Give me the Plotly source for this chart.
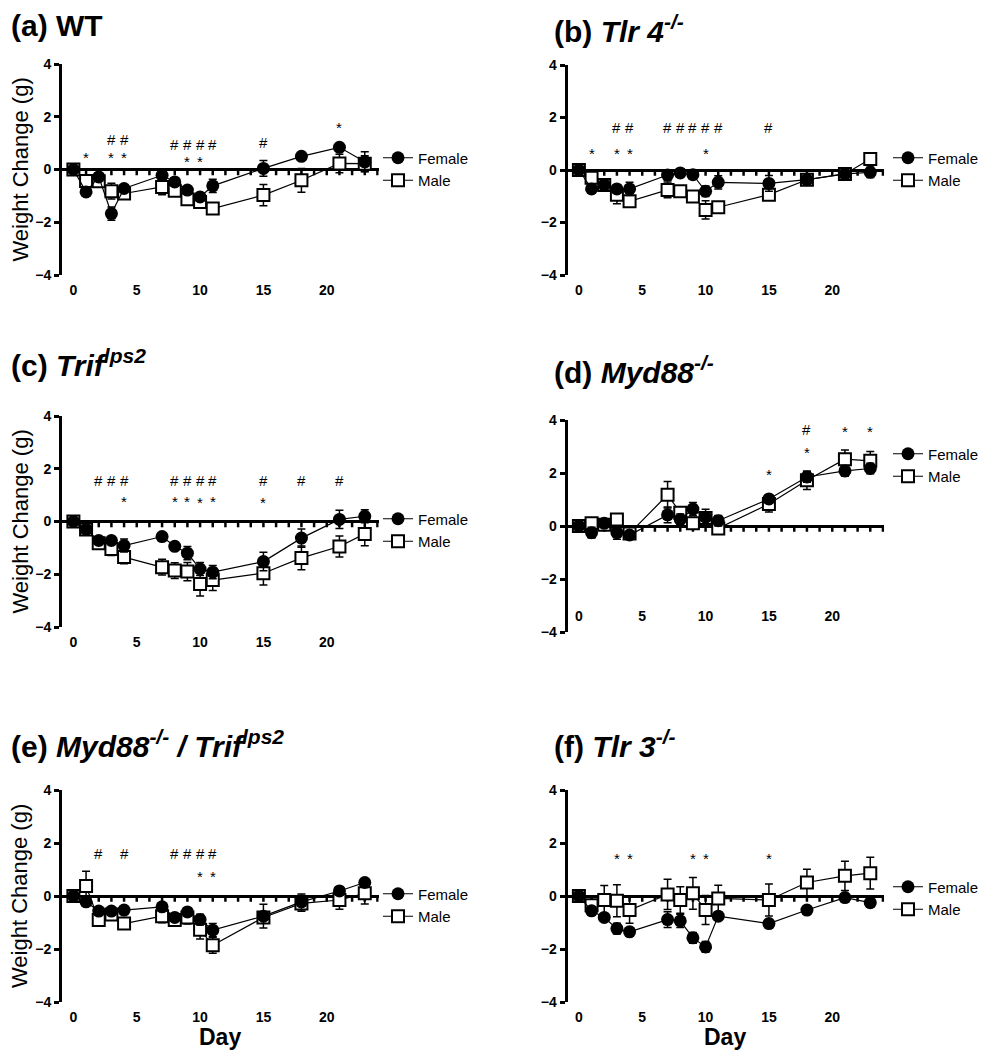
import plotly.graph_objects as go

# ---------------- data ----------------
days = [0, 1, 2, 3, 4, 7, 8, 9, 10, 11, 15, 18, 21, 23]

a_female = [0, -0.85, -0.28, -1.67, -0.72, -0.22, -0.47, -0.78, -1.04, -0.62, 0.04, 0.50, 0.84, 0.29]
a_female_err = [0.05, 0.1, 0.1, 0.25, 0.1, 0.1, 0.1, 0.1, 0.15, 0.25, 0.3, 0.1, 0.1, 0.38]
a_male = [0, -0.44, -0.45, -0.82, -0.91, -0.66, -0.81, -1.13, -1.23, -1.48, -0.97, -0.41, 0.23, 0.22]
a_male_err = [0.05, 0.15, 0.1, 0.3, 0.15, 0.3, 0.15, 0.2, 0.15, 0.1, 0.4, 0.45, 0.35, 0.3]

b_female = [0, -0.72, -0.57, -0.72, -0.72, -0.19, -0.11, -0.18, -0.81, -0.47, -0.51, -0.37, -0.15, -0.09]
b_female_err = [0.05, 0.1, 0.1, 0.15, 0.25, 0.2, 0.1, 0.1, 0.2, 0.25, 0.3, 0.1, 0.1, 0.2]
b_male = [0, -0.30, -0.57, -0.94, -1.19, -0.76, -0.81, -1.01, -1.52, -1.42, -0.94, -0.37, -0.15, 0.42]
b_male_err = [0.05, 0.1, 0.1, 0.35, 0.1, 0.3, 0.1, 0.1, 0.35, 0.1, 0.1, 0.1, 0.1, 0.15]

c_female = [0, -0.30, -0.72, -0.72, -0.91, -0.57, -0.94, -1.20, -1.80, -1.92, -1.52, -0.63, 0.08, 0.20]
c_female_err = [0.05, 0.1, 0.15, 0.15, 0.25, 0.1, 0.1, 0.25, 0.25, 0.25, 0.35, 0.35, 0.35, 0.25]
c_male = [0, -0.30, -0.82, -1.04, -1.35, -1.73, -1.86, -1.90, -2.37, -2.22, -1.96, -1.38, -0.95, -0.47]
c_male_err = [0.05, 0.1, 0.15, 0.25, 0.25, 0.3, 0.3, 0.35, 0.45, 0.4, 0.45, 0.45, 0.4, 0.45]

d_female = [0, -0.25, 0.10, -0.25, -0.34, 0.42, 0.25, 0.64, 0.33, 0.20, 1.02, 1.85, 2.08, 2.17]
d_female_err = [0.05, 0.2, 0.1, 0.25, 0.1, 0.3, 0.2, 0.25, 0.3, 0.2, 0.15, 0.2, 0.2, 0.2]
d_male = [0, 0.10, 0.05, 0.25, -0.28, 1.18, 0.50, 0.10, 0.30, -0.09, 0.83, 1.73, 2.52, 2.46]
d_male_err = [0.05, 0.1, 0.1, 0.2, 0.1, 0.5, 0.2, 0.2, 0.2, 0.2, 0.3, 0.35, 0.35, 0.35]

e_female = [0, -0.22, -0.57, -0.57, -0.53, -0.41, -0.81, -0.60, -0.89, -1.29, -0.76, -0.22, 0.19, 0.51]
e_female_err = [0.05, 0.1, 0.1, 0.1, 0.1, 0.1, 0.1, 0.1, 0.2, 0.25, 0.45, 0.3, 0.1, 0.1]
e_male = [0, 0.38, -0.91, -0.70, -1.04, -0.76, -0.91, -0.81, -1.27, -1.86, -0.81, -0.28, -0.15, 0.10]
e_male_err = [0.05, 0.55, 0.1, 0.15, 0.2, 0.25, 0.15, 0.25, 0.35, 0.3, 0.2, 0.3, 0.35, 0.4]

f_female = [0, -0.56, -0.81, -1.23, -1.35, -0.89, -0.94, -1.58, -1.92, -0.76, -1.04, -0.53, -0.06, -0.25]
f_female_err = [0.05, 0.1, 0.1, 0.2, 0.1, 0.3, 0.25, 0.2, 0.2, 0.1, 0.1, 0.1, 0.1, 0.1]
f_male = [0, -0.35, -0.15, -0.18, -0.53, 0.06, -0.15, 0.10, -0.53, -0.09, -0.15, 0.51, 0.76, 0.86]
f_male_err = [0.05, 0.3, 0.55, 0.6, 0.5, 0.57, 0.5, 0.6, 0.55, 0.5, 0.6, 0.5, 0.55, 0.6]

# significance marks (day, y value)
a_star_days = [1, 3, 4, 9, 10, 21]
a_star_y = [0.61, 0.61, 0.61, 0.46, 0.46, 1.74]
a_hash_days = [3, 4, 8, 9, 10, 11, 15]
a_hash_y = [1.14, 1.14, 0.96, 0.96, 0.96, 0.96, 1.01]

b_star_days = [1, 3, 4, 10]
b_star_y = [0.78, 0.78, 0.78, 0.78]
b_hash_days = [3, 4, 7, 8, 9, 10, 11, 15]
b_hash_y = [1.63, 1.63, 1.63, 1.63, 1.63, 1.63, 1.63, 1.63]

c_star_days = [4, 8, 9, 10, 11, 15]
c_star_y = [0.92, 0.90, 0.90, 0.88, 0.90, 0.86]
c_hash_days = [2, 3, 4, 8, 9, 10, 11, 15, 18, 21]
c_hash_y = [1.56, 1.56, 1.56, 1.56, 1.56, 1.56, 1.56, 1.56, 1.56, 1.56]

d_star_days = [15, 18, 21, 23]
d_star_y = [2.08, 2.93, 3.70, 3.70]
d_hash_days = [18, 21, 23]
d_hash_y = [3.66, 4.39, 4.39]

e_star_days = [10, 11]
e_star_y = [0.90, 0.90]
e_hash_days = [2, 4, 8, 9, 10, 11]
e_hash_y = [1.60, 1.60, 1.60, 1.60, 1.60, 1.60]

f_star_days = [3, 4, 9, 10, 15]
f_star_y = [1.56, 1.56, 1.56, 1.56, 1.56]
f_hash_days = []
f_hash_y = []

x_tick_vals = [0, 5, 10, 15, 20]
y_tick_vals = [-4, -2, 0, 2, 4]
minor_tick_days = list(range(1, 25))
series_names = ["Female", "Male"]

titles = [
    "(a) WT",
    "(b) <i>Tlr 4<sup>-/-</sup></i>",
    "(c) <i>Trif<sup>lps2</sup></i>",
    "(d) <i>Myd88<sup>-/-</sup></i>",
    "(e) <i>Myd88<sup>-/-</sup> / Trif<sup>lps2</sup></i>",
    "(f) <i>Tlr 3<sup>-/-</sup></i>",
]

panels = [
    (a_female, a_female_err, a_male, a_male_err, a_star_days, a_star_y, a_hash_days, a_hash_y),
    (b_female, b_female_err, b_male, b_male_err, b_star_days, b_star_y, b_hash_days, b_hash_y),
    (c_female, c_female_err, c_male, c_male_err, c_star_days, c_star_y, c_hash_days, c_hash_y),
    (d_female, d_female_err, d_male, d_male_err, d_star_days, d_star_y, d_hash_days, d_hash_y),
    (e_female, e_female_err, e_male, e_male_err, e_star_days, e_star_y, e_hash_days, e_hash_y),
    (f_female, f_female_err, f_male, f_male_err, f_star_days, f_star_y, f_hash_days, f_hash_y),
]

# ---------------- layout geometry (pixels of the page) ----------------
W, H = 993, 1050
OFF = 8  # default page body margin
FONT = "Liberation Sans, Arial, Helvetica, sans-serif"
X_RANGE = [-0.9, 24.1]
Y_RANGE = [-4, 4]
TICK_LEN = 0.22  # day tick length below the zero line (y units)


def fx(p):
    return (p - OFF) / W


def fy(p):
    return 1 - (p - OFF) / H


col_x = [(62, 378.7), (567.5, 884.2)]
boxes = [(0, 64, 275), (1, 65, 275), (0, 416, 627), (1, 420, 632), (0, 790, 1002), (1, 790, 1002)]
title_pos = [(9, 25), (552, 29), (9, 363), (552, 370), (9, 744), (552, 744)]
legend_pos = [(378, 169), (888, 169), (378, 530), (888, 465), (378, 905), (888, 898)]
xlabel_pos = [None, None, None, 601, None, None]

fig = go.Figure()
annotations = []
layout = dict(
    width=W, height=H,
    margin=dict(l=0, r=0, t=0, b=0, autoexpand=False),
    paper_bgcolor="white", plot_bgcolor="white",
    showlegend=True,
    font=dict(family=FONT, color="black"),
)

for i, (fem, fem_err, mal, mal_err, sd, sy, hd, hy) in enumerate(panels):
    k = i + 1
    xs = "" if k == 1 else str(k)
    col, ytop, ybot = boxes[i]
    x0, x1 = col_x[col]
    leg = "legend" if k == 1 else f"legend{k}"

    # day ticks hanging below the zero line
    tx, ty = [], []
    for d in minor_tick_days:
        tx += [d, d, None]
        ty += [0, -TICK_LEN, None]
    fig.add_trace(go.Scatter(
        x=tx, y=ty, mode="lines", xaxis="x" + xs, yaxis="y" + xs,
        line=dict(color="black", width=2.5), hoverinfo="skip", showlegend=False,
        cliponaxis=False,
    ))

    # Male drawn first so Female sits on top
    fig.add_trace(go.Scatter(
        x=days, y=mal, mode="lines+markers", name=series_names[1],
        xaxis="x" + xs, yaxis="y" + xs, legend=leg, legendrank=2,
        line=dict(color="black", width=1.2),
        marker=dict(symbol="square", size=12, color="white", line=dict(color="black", width=2)),
        error_y=dict(type="data", array=mal_err, visible=True, color="black", thickness=1.5, width=4),
        cliponaxis=False,
    ))
    fig.add_trace(go.Scatter(
        x=days, y=fem, mode="lines+markers", name=series_names[0],
        xaxis="x" + xs, yaxis="y" + xs, legend=leg, legendrank=1,
        line=dict(color="black", width=1.2),
        marker=dict(symbol="circle", size=13, color="black"),
        error_y=dict(type="data", array=fem_err, visible=True, color="black", thickness=1.5, width=4),
        cliponaxis=False,
    ))

    xa = dict(
        domain=[fx(x0), fx(x1)], range=X_RANGE, anchor="y" + xs,
        tickvals=x_tick_vals, showline=False, showgrid=False, zeroline=False,
        ticks="outside", ticklen=2, tickcolor="rgba(0,0,0,0)", automargin=False,
        tickfont=dict(family=FONT, size=14, color="black", weight="bold"),
    )
    if xlabel_pos[i] is not None:
        xa["anchor"] = "free"
        xa["position"] = fy(xlabel_pos[i])
    layout["xaxis" + xs] = xa
    layout["yaxis" + xs] = dict(
        domain=[fy(ybot), fy(ytop)], range=Y_RANGE, anchor="x" + xs,
        tickvals=y_tick_vals, showline=True, linewidth=3, linecolor="black",
        ticks="outside", ticklen=5, tickwidth=3, tickcolor="black",
        showgrid=False, zeroline=True, zerolinewidth=3, zerolinecolor="black",
        automargin=False,
        tickfont=dict(family=FONT, size=14, color="black", weight="bold"),
    )
    zero_frac = fy(ybot) + (0 - Y_RANGE[0]) / (Y_RANGE[1] - Y_RANGE[0]) * (fy(ytop) - fy(ybot))

    # significance annotations
    for d, v in zip(sd, sy):
        annotations.append(dict(x=d, y=v, xref="x" + xs, yref="y" + xs, text="*", showarrow=False,
                                xanchor="center", yanchor="middle", yshift=-4,
                                font=dict(family=FONT, size=15, color="black")))
    for d, v in zip(hd, hy):
        annotations.append(dict(x=d, y=v, xref="x" + xs, yref="y" + xs, text="#", showarrow=False,
                                xanchor="center", yanchor="middle",
                                font=dict(family=FONT, size=15, color="black")))

    # panel title
    tpx, tpy = title_pos[i]
    annotations.append(dict(x=fx(tpx), y=fy(tpy), xref="paper", yref="paper", xanchor="left",
                            yanchor="middle", text=titles[i], showarrow=False,
                            font=dict(family=FONT, size=30, color="black", weight="bold")))

    # y axis title on left column
    if col == 0:
        annotations.append(dict(x=fx(20), y=zero_frac, xref="paper", yref="paper",
                                xanchor="center", yanchor="middle",
                                text="Weight Change (g)", textangle=-90, showarrow=False,
                                font=dict(family=FONT, size=22, color="black")))

    # legend
    lx, ly = legend_pos[i]
    layout[leg] = dict(x=fx(lx), y=fy(ly), xanchor="left", yanchor="middle",
                       bgcolor="rgba(0,0,0,0)", font=dict(family=FONT, size=15, color="black"),
                       tracegroupgap=0)

# Day labels
for cx in (220, 725):
    annotations.append(dict(x=fx(cx), y=fy(1037), xref="paper", yref="paper", text="Day",
                            xanchor="center", yanchor="middle", showarrow=False,
                            font=dict(family=FONT, size=23, color="black", weight="bold")))

layout["annotations"] = annotations
fig.update_layout(**layout)
fig.write_html("out.html")
